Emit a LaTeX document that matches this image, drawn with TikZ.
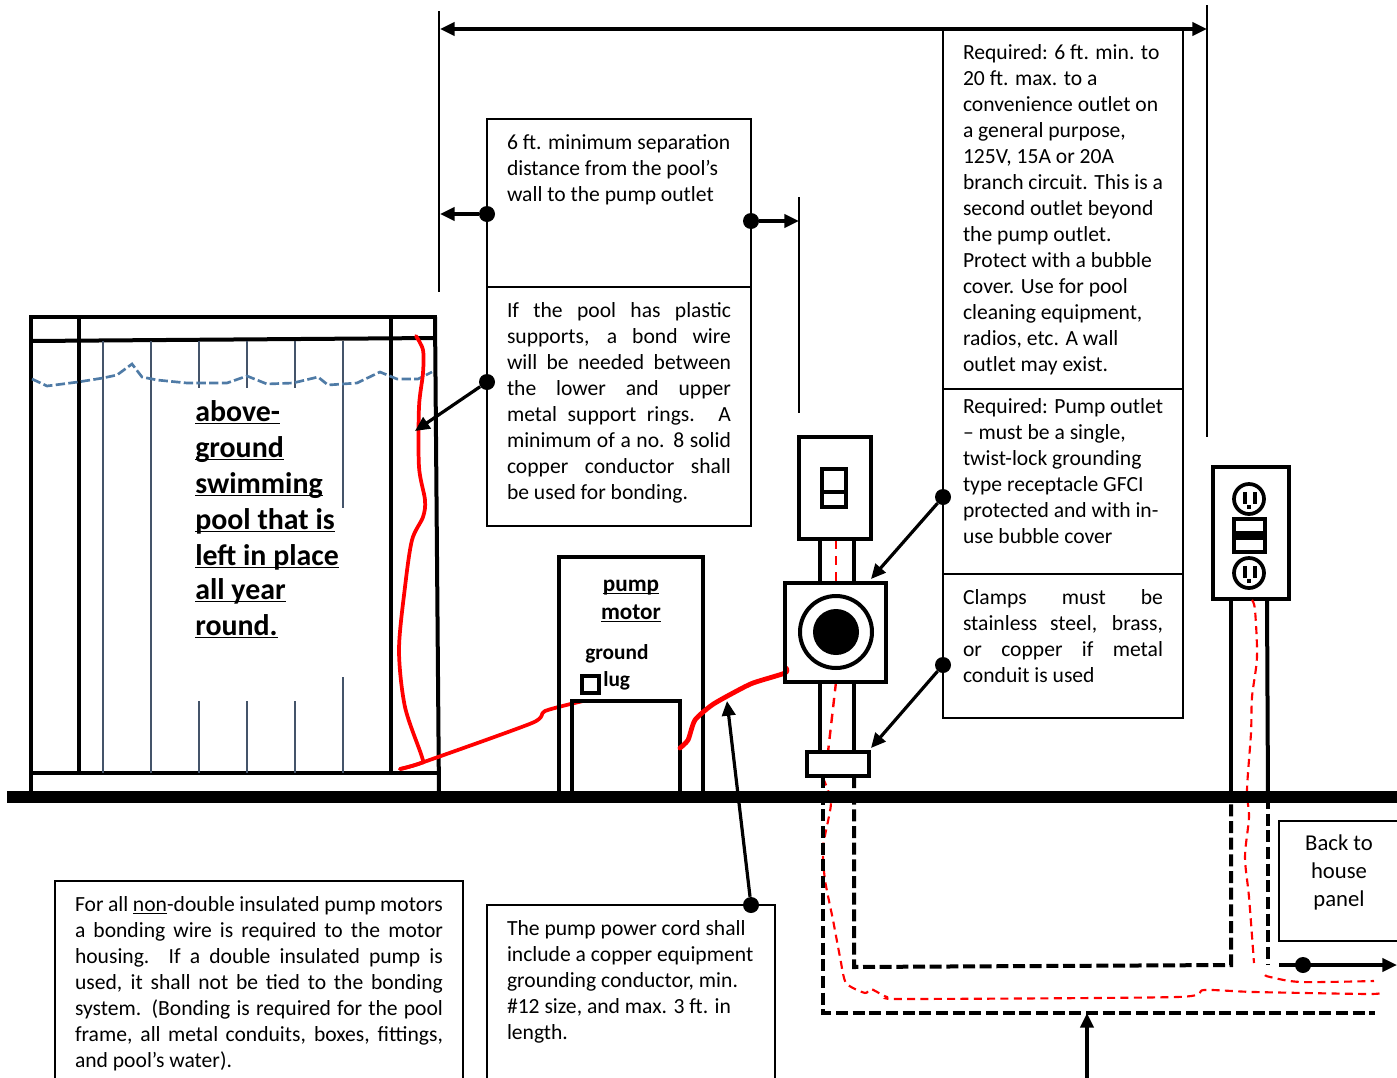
\documentclass[tikz,border=0pt]{standalone}
\usepackage{fontspec}
\setmainfont{Carlito}
\usetikzlibrary{arrows.meta}
\newlength{\px}\setlength{\px}{0.75pt}
\newcommand{\tbx}[3]{\parbox[t][#2\px][t]{#1\px}{\strut #3}}
\newcommand{\jl}[1]{\makebox[\linewidth][s]{#1}}
\newcommand{\ulx}[1]{\underline{\smash{#1}}}
\definecolor{slat}{HTML}{44546A}
\definecolor{water}{HTML}{4F7BA6}
\tikzset{
  note/.style={draw=black,line width=1.5pt,outer sep=0pt,anchor=north west,inner xsep=20\px,inner ysep=12\px,font=\fontsize{16.2}{19.5}\selectfont},
  heavy/.style={line width=3pt,draw=black},
  slatline/.style={line width=1.2pt,draw=slat},
  dotn/.style={circle,fill=black,inner sep=0pt,minimum size=12pt},
  arr/.style={line width=2.4pt,-{Triangle[length=11pt,width=10pt]}},
  wire/.style={red,line width=2.8pt,line cap=round,line join=round},
  rdash/.style={red,line width=1.8pt,dash pattern=on 7pt off 5pt},
  kdash/.style={black,line width=3pt,dash pattern=on 9pt off 3.5pt},
  dim/.style={line width=1.5pt,draw=black},
  blabel/.style={anchor=base west,inner sep=0pt,font=\bfseries\fontsize{16}{18}\selectfont},
  mlabel/.style={anchor=base,inner sep=0pt,font=\bfseries\fontsize{17.4}{18}\selectfont},
  plabel/.style={anchor=base west,inner sep=0pt,font=\bfseries\fontsize{22.4}{27}\selectfont}
}
\begin{document}
\begin{tikzpicture}[x=0.75pt,y=-0.75pt]
\useasboundingbox (0,0) rectangle (1397,1078);
\clip (0,0) rectangle (1397,1078);
% pool
\draw[heavy] (31,797) -- (31,317) -- (437,317);
\draw[heavy] (31,341) -- (435,338);
\draw[heavy] (435,317) -- (439,797);
\draw[heavy] (79,317) -- (79,773);
\draw[heavy] (391,317) -- (391,773);
\draw[line width=2.6pt] (31,773) -- (437,773);
\foreach \xx in {103,151}{\draw[slatline] (\xx,341) -- (\xx,773);}
\foreach \xx in {199,247,295}{\draw[slatline] (\xx,341) -- (\xx,388);\draw[slatline] (\xx,701) -- (\xx,773);}
\draw[slatline] (343,341) -- (343,508);
\draw[slatline] (343,677) -- (343,773);
\draw[water,line width=2pt,dash pattern=on 7pt off 2.5pt] (32,379) -- (47,386) -- (78,382) -- (103,378) -- (117,375) -- (132,364) -- (142,377) -- (157,380) -- (187,383) -- (227,383) -- (247,376) -- (267,384) -- (293,383) -- (318,377) -- (328,385) -- (357,383) -- (380,372) -- (397,379) -- (418,379) -- (432,372);
% pool red bond wire
\draw[wire] plot[smooth,tension=0.5] coordinates {(416,336) (423,350) (423,373) (419,407) (419,467) (425,500) (423,517) (412,540) (405,587) (399,650) (405,707) (422,757) (421,763) (400,769)};
\draw[wire] plot[smooth,tension=0.4] coordinates {(400,769) (421,763) (532,723) (545,711) (583,701)};
% pool label
\node[plabel] (p1) at (195,421) {\ulx{above-}};
\node[plabel] (p2) at (195,457) {\ulx{ground}};
\node[plabel] (p3) at (195,493) {\ulx{swimming}};
\node[plabel] (p4) at (195,529) {\ulx{pool that is}};
\node[plabel] (p5) at (195,565) {\ulx{left in place}};
\node[plabel] (p6) at (195,599) {\ulx{all year}};
\node[plabel] (p7) at (195,635) {\ulx{round.}};
% pump motor
\draw[heavy] (559,797) -- (559,557) -- (703,557) -- (703,797);
\draw[heavy] (572,797) -- (572,701) -- (680,701) -- (680,797);
\draw[heavy] (582,676) rectangle (599,693);
\node[mlabel] (pm1) at (631,591) {\ulx{pump}};
\node[mlabel] (pm2) at (631,619) {\ulx{motor}};
\node[blabel] (gl1) at (585,659) {ground};
\node[blabel] (gl2) at (603,686) {lug};
\draw[wire,line width=3.6pt] plot[smooth,tension=0.4] coordinates {(680,748) (688,740) (695,720) (712,705) (733,693) (753,683) (785,673) (786,668)};
% switch, conduit, disconnect
\draw[rdash] (836,540) -- (836,583);
\draw[rdash] (836,682) -- (828,752);
\draw[heavy] (799,437) rectangle (871,539);
\draw[heavy] (822,469) rectangle (846,507);
\draw[heavy] (822,492) -- (846,492);
\draw[heavy] (820,539) -- (820,583);
\draw[heavy] (854,539) -- (854,583);
\draw[heavy] (785,583) rectangle (886,682);
\draw[heavy] (836,632) circle (36);
\fill (836,632) circle (23);
\draw[heavy] (820,682) -- (820,752);
\draw[heavy] (854,682) -- (854,752);
\draw[heavy] (807,752) rectangle (869,776);
% outlet
\draw[heavy] (1213,467) rectangle (1289,599);
\draw[heavy] (1231,599) -- (1231,797);
\draw[heavy] (1267,599) -- (1268,797);
\foreach \yy in {499,573}{
  \draw[line width=2.8pt] (1249,\yy) circle (15);
  \fill (1242.5,\yy-7) rectangle (1246.5,\yy+5);
  \fill (1252.5,\yy-7) rectangle (1256.5,\yy+5);
  \fill (1247,\yy+6) rectangle (1251,\yy+10);
}
\draw[heavy] (1234,519) rectangle (1265,552);
\fill (1234,531) rectangle (1265,540);
% underground wiring
\draw[rdash,line width=1.6pt,dash pattern=on 6pt off 4pt] plot[smooth,tension=0.5] coordinates {(1252,600) (1255,610) (1257,657) (1252,697) (1251,733) (1247,790) (1249,817) (1245,857) (1249,897) (1254,963)};
\draw[rdash,line width=1.6pt,dash pattern=on 6pt off 4pt] plot[smooth,tension=0.5] coordinates {(1265,975) (1270,977) (1301,982) (1374,981)};
\draw[rdash,line width=1.6pt,dash pattern=on 6pt off 4pt] plot[smooth,tension=0.4] coordinates {(823,778) (831,803) (823,847) (825,880) (833,920) (840,957) (846,983) (865,993) (871,989) (887,997) (906,999) (1177,997) (1204,990) (1254,992) (1370,994) (1382,992)};
\draw[kdash] (823,776) -- (823,1013) -- (1375,1013);
\draw[kdash] (854,776) -- (854,967) -- (1231,965) -- (1231,797);
\draw[kdash] (1268,797) -- (1268,965);
% ground
\draw[black,line width=9pt] (7,797) -- (1397,797);
% dimension lines
\draw[dim] (439,11) -- (439,292);
\draw[dim] (1207,5) -- (1207,437);
\draw[dim] (799,197) -- (799,413);
\coordinate (topL) at (440,29);
\coordinate (topR) at (1207,29);
\draw[line width=2.4pt,{Triangle[length=11pt,width=10pt]}-{Triangle[length=11pt,width=10pt]}] (topL) -- (topR);
% notes
\node[note] (a) at (487,119) {\tbx{224}{144}{6 ft. minimum separation\\distance from the pool’s\\wall to the pump outlet}};
\node[note] (b) at (487,287) {\tbx{224}{215}{\jl{If the pool has plastic}\\\jl{supports, a bond wire}\\\jl{will be needed between}\\\jl{the lower and upper}\\\jl{metal support rings. A}\\\jl{minimum of a no. 8 solid}\\\jl{copper conductor shall}\\be used for bonding.}};
\node[note] (c) at (943,29) {\tbx{200}{336}{Required: 6 ft. min. to\\20 ft. max. to a\\convenience outlet on\\a general purpose,\\125V, 15A or 20A\\branch circuit. This is a\\second outlet beyond\\the pump outlet.\\Protect with a bubble\\cover. Use for pool\\cleaning equipment,\\radios, etc. A wall\\outlet may exist.}};
\node[note,inner ysep=6\px] (d) at (943,389) {\tbx{200}{173}{Required: Pump outlet\\– must be a single,\\twist-lock grounding\\type receptacle GFCI\\protected and with in-\\use bubble cover}};
\node[note] (e) at (943,574) {\tbx{200}{120}{\jl{Clamps must be}\\\jl{stainless steel, brass,}\\\jl{or copper if metal}\\conduit is used}};
\node[note] (f) at (55,881) {\tbx{368}{240}{For all \underline{\smash{non}}-double insulated pump motors\\\jl{a bonding wire is required to the motor}\\\jl{housing. If a double insulated pump is}\\\jl{used, it shall not be tied to the bonding}\\\jl{system. (Bonding is required for the pool}\\\jl{frame, all metal conduits, boxes, fittings,}\\and pool’s water).}};
\node[note] (g) at (487,905) {\tbx{248}{200}{The pump power cord shall\\include a copper equipment\\grounding conductor, min.\\\#12 size, and max. 3 ft. in\\length.}};
\node[note,inner xsep=0pt,inner ysep=11\px] (h) at (1279,821) {\tbx{120}{98}{\centering\fontsize{17}{21}\selectfont Back to\\house\\panel}\hspace{40\px}};
% connectors
\node[dotn] (d1) at (487,214) {};
\node[dotn] (d2) at (751,221) {};
\node[dotn] (d3) at (487,382) {};
\node[dotn] (d4) at (943,497) {};
\node[dotn] (d5) at (943,665) {};
\node[dotn] (d6) at (751,905) {};
\node[dotn] (d7) at (1303,965) {};
\coordinate (t1) at (440,214);
\coordinate (t2) at (799,221);
\coordinate (t3) at (415,431);
\coordinate (t4) at (871,579);
\coordinate (t5) at (871,748);
\coordinate (t6) at (727,701);
\coordinate (t7s) at (1279,965);
\coordinate (t7) at (1397,965);
\coordinate (t8s) at (1087,1078);
\coordinate (t8) at (1087,1013);
\draw[arr] (d1) -- (t1);
\draw[arr] (d2) -- (t2);
\draw[arr] (d3) -- (t3);
\draw[arr] (d4) -- (t4);
\draw[arr] (d5) -- (t5);
\draw[arr] (d6) -- (t6);
\draw[arr] (t7s) -- (t7);
\draw[arr] (t8s) -- (t8);
\end{tikzpicture}
\end{document}
